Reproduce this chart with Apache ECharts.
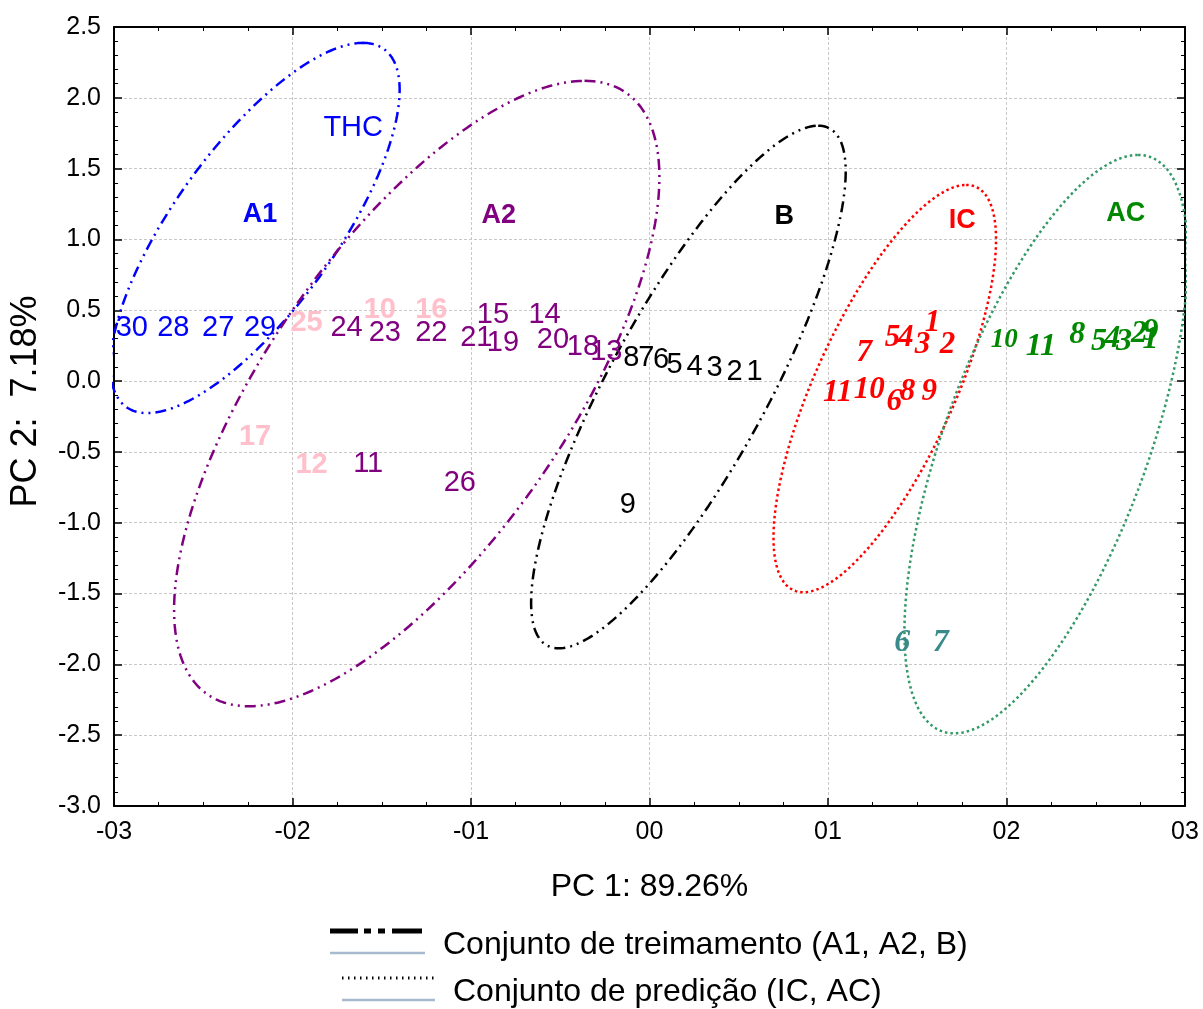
<!DOCTYPE html>
<html>
<head>
<meta charset="utf-8">
<script src="https://cdn.jsdelivr.net/npm/echarts@6/dist/echarts.min.js"></script>
<style>
  html, body { margin: 0; padding: 0; background: #ffffff; }
  #chart { width: 1203px; height: 1009px; }
</style>
</head>
<body>
<div id="chart"></div>
<script>
// PCA scores, one array per group: [PC1, PC2, sample label]
const a1Scores = [
  [-2.900, 0.375, '30'], [-2.668, 0.375, '28'], [-2.416, 0.375, '27'], [-2.182, 0.375, '29']
];
const a2Scores = [
  [-1.697, 0.375, '24'], [-1.483, 0.339, '23'], [-1.222, 0.339, '22'], [-0.970, 0.302, '21'],
  [-0.821, 0.271, '19'], [-0.877, 0.466, '15'], [-0.588, 0.466, '14'], [-0.541, 0.290, '20'],
  [-0.373, 0.242, '18'], [-0.242, 0.207, '13'], [-1.576, -0.582, '11'], [-1.063, -0.723, '26']
];
const a2Flagged = [
  [-1.921, 0.408, '25'], [-1.511, 0.502, '10'], [-1.222, 0.502, '16'],
  [-2.210, -0.394, '17'], [-1.893, -0.594, '12']
];
const bScores = [
  [-0.102, 0.160, '8'], [-0.018, 0.160, '7'], [0.065, 0.148, '6'], [0.140, 0.113, '5'],
  [0.252, 0.101, '4'], [0.364, 0.090, '3'], [0.476, 0.066, '2'], [0.588, 0.066, '1'],
  [-0.121, -0.876, '9']
];
const icScores = [
  [1.203, 0.196, '7'], [1.362, 0.301, '5'], [1.436, 0.301, '4'], [1.530, 0.254, '3'],
  [1.586, 0.408, '1'], [1.670, 0.254, '2'], [1.054, -0.087, '11'], [1.231, -0.064, '10'],
  [1.371, -0.146, '6'], [1.446, -0.075, '8'], [1.567, -0.075, '9']
];
const acScores = [
  [1.987, 0.290, '10'], [2.192, 0.243, '11'], [2.397, 0.325, '8'], [2.518, 0.278, '5'],
  [2.593, 0.301, '4'], [2.658, 0.278, '3'], [2.742, 0.337, '2'], [2.807, 0.348, '9'],
  [2.807, 0.290, '1']
];
const acOutside = [[1.416, -1.845, '6'], [1.632, -1.845, '7']];

// group captions: [PC1, PC2, text]
const groupCaptions = [
  [-2.182, 1.173, 'A1'], [-0.845, 1.168, 'A2'], [0.755, 1.159, 'B'],
  [1.752, 1.134, 'IC'], [2.668, 1.183, 'AC']
];
const analyteCaption = [[-1.660, 1.786, 'THC']];

// confidence ellipses: [centre PC1, centre PC2, offset of top point PC1, offset of top point PC2, half-width at centre height]
const ellipseA1 = [-2.210, 1.081, 0.604, 1.307, 0.540];
const ellipseA2 = [-1.304, -0.088, 0.940, 2.208, 0.982];
const ellipseB  = [0.218, -0.042, 0.727, 1.845, 0.498];
const ellipseIC = [1.318, -0.053, 0.456, 1.438, 0.425];
const ellipseAC = [2.222, -0.445, 0.515, 2.042, 0.604];

// axis tick labels
const xTickLabels = ['-03', '-02', '-01', '00', '01', '02', '03'];
const yTickLabels = ['-3.0', '-2.5', '-2.0', '-1.5', '-1.0', '-0.5', '0.0', '0.5', '1.0', '1.5', '2.0', '2.5'];

const legendLabels = ['Conjunto de treimamento (A1, A2, B)', 'Conjunto de predição (IC, AC)'];

// ---------------------------------------------------------------------------
const SANS = '"Liberation Sans", Arial, Helvetica, sans-serif';
const SERIF = '"Liberation Serif", "Times New Roman", Times, serif';

const captionColors = { A1: '#0000ff', A2: '#800080', B: '#000000', IC: '#ff0000', AC: '#008800' };

// outline of an ellipse given its centre, top point and horizontal half-width
function ellipseOutline(e) {
  const [cx, cy, ax, ay, bx] = e;
  const pts = [];
  const n = 240;
  for (let i = 0; i <= n; i++) {
    const t = (i / n) * Math.PI * 2;
    pts.push([cx + ax * Math.cos(t) + bx * Math.sin(t), cy + ay * Math.cos(t)]);
  }
  return pts;
}

const dashDotDot = [11, 5, 2, 5, 2, 5];
const dotted = [2.5, 3];

function ellipseSeries(e, color, dash) {
  return {
    type: 'line',
    data: ellipseOutline(e),
    showSymbol: false,
    symbol: 'none',
    smooth: false,
    clip: false,
    silent: true,
    z: 2,
    lineStyle: { color: color, width: 2.5, type: dash, opacity: 1 }
  };
}

// invisible points carrying their sample label as text
function labelSeries(points, color, font, overrides) {
  return {
    type: 'scatter',
    silent: true,
    symbol: 'circle',
    symbolSize: 1,
    z: 3,
    itemStyle: { color: 'rgba(0,0,0,0)', opacity: 1 },
    data: points.map(p => {
      const item = { value: [p[0], p[1]], name: p[2] };
      if (overrides && overrides[p[2]]) item.label = overrides[p[2]];
      return item;
    }),
    label: {
      show: true,
      position: 'inside',
      formatter: '{b}',
      color: color,
      opacity: 1,
      fontFamily: font.family,
      fontSize: font.size,
      fontWeight: font.weight || 'normal',
      fontStyle: font.style || 'normal'
    }
  };
}

const plainFont = { family: SANS, size: 29 };
const boldFont = { family: SANS, size: 29, weight: 'bold' };
const italicFont = { family: SERIF, size: 31, weight: 'bold', style: 'italic' };
const italicFontAC = { family: SERIF, size: 32, weight: 'bold', style: 'italic' };

const axisCommon = {
  axisLine: { show: true, onZero: false, lineStyle: { color: '#000', width: 2 } },
  axisTick: { show: true, inside: true, length: 8, lineStyle: { color: '#000', width: 1.5 } }
};

const captionSeries = {
  type: 'scatter', silent: true, symbol: 'circle', symbolSize: 1, z: 3,
  itemStyle: { color: 'rgba(0,0,0,0)', opacity: 1 },
  data: groupCaptions.map(g => ({
    value: [g[0], g[1]], name: g[2],
    label: { color: captionColors[g[2]] }
  })),
  label: {
    show: true, position: 'inside', formatter: '{b}', opacity: 1,
    fontFamily: SANS, fontSize: 27, fontWeight: 'bold', color: '#000'
  }
};

const chart = echarts.init(document.getElementById('chart'), null, { renderer: 'canvas' });

chart.setOption({
  animation: false,
  backgroundColor: '#ffffff',
  grid: { left: 113, right: 18, top: 27, bottom: 203, containLabel: false },
  xAxis: [
    Object.assign({}, axisCommon, {
      type: 'value', position: 'bottom', min: -3, max: 3, interval: 1,
      minorTick: { show: true, splitNumber: 4, length: 4, lineStyle: { color: '#000', width: 1 } },
      splitLine: { show: true, lineStyle: { color: '#c8c8c8', width: 1, type: [3, 2] } },
      axisLabel: {
        formatter: v => xTickLabels[Math.round(v) + 3],
        color: '#000', fontFamily: SANS, fontSize: 25, margin: 14
      },
      name: 'PC 1: 89.26%', nameLocation: 'middle', nameGap: 65,
      nameTextStyle: { color: '#000', fontFamily: SANS, fontSize: 32 }
    }),
    Object.assign({}, axisCommon, {
      type: 'value', position: 'top', min: -3, max: 3, interval: 1,
      minorTick: { show: true, splitNumber: 4, length: 4, lineStyle: { color: '#000', width: 1 } },
      splitLine: { show: false }, axisLabel: { show: false }
    })
  ],
  yAxis: [
    Object.assign({}, axisCommon, {
      type: 'value', position: 'left', min: -3, max: 2.5, interval: 0.5,
      minorTick: { show: true, splitNumber: 5, length: 4, lineStyle: { color: '#000', width: 1 } },
      splitLine: { show: true, lineStyle: { color: '#c8c8c8', width: 1, type: [3, 2] } },
      axisLabel: {
        formatter: v => yTickLabels[Math.round((v + 3) * 2)],
        color: '#000', fontFamily: SANS, fontSize: 25, margin: 13
      },
      name: 'PC 2:  7.18%', nameLocation: 'middle', nameGap: 70,
      nameTextStyle: { color: '#000', fontFamily: SANS, fontSize: 36, padding: [0, 0, 0, 30] }
    }),
    Object.assign({}, axisCommon, {
      type: 'value', position: 'right', min: -3, max: 2.5, interval: 0.5,
      minorTick: { show: true, splitNumber: 5, length: 4, lineStyle: { color: '#000', width: 1 } },
      splitLine: { show: false }, axisLabel: { show: false }
    })
  ],
  series: [
    ellipseSeries(ellipseA1, '#0000ff', dashDotDot),
    ellipseSeries(ellipseA2, '#800080', dashDotDot),
    ellipseSeries(ellipseB, '#000000', dashDotDot),
    ellipseSeries(ellipseIC, '#ff0000', dotted),
    ellipseSeries(ellipseAC, '#339966', dotted),
    labelSeries(a1Scores, '#0000ff', plainFont),
    labelSeries(analyteCaption, '#0000ff', plainFont),
    labelSeries(a2Scores, '#800080', plainFont),
    labelSeries(a2Flagged, '#ffc0cb', boldFont),
    labelSeries(bScores, '#000000', plainFont),
    labelSeries(icScores, '#ff0000', italicFont),
    labelSeries(acScores, '#008800', italicFontAC, { '10': { fontSize: 27 } }),
    labelSeries(acOutside, '#3a8a8a', italicFontAC),
    captionSeries
  ],
  graphic: [
    // training set key
    { type: 'line', shape: { x1: 330, y1: 931, x2: 358, y2: 931 }, style: { stroke: '#000', lineWidth: 5 } },
    { type: 'line', shape: { x1: 364, y1: 931, x2: 371, y2: 931 }, style: { stroke: '#000', lineWidth: 5 } },
    { type: 'line', shape: { x1: 378, y1: 931, x2: 385, y2: 931 }, style: { stroke: '#000', lineWidth: 5 } },
    { type: 'line', shape: { x1: 392, y1: 931, x2: 422, y2: 931 }, style: { stroke: '#000', lineWidth: 5 } },
    { type: 'line', shape: { x1: 330, y1: 953, x2: 425, y2: 953 }, style: { stroke: '#a7bad0', lineWidth: 2.5 } },
    { type: 'text', left: 443, top: 929, style: { text: legendLabels[0], fill: '#000', font: '32px ' + SANS } },
    // prediction set key
    { type: 'line', shape: { x1: 342, y1: 978, x2: 435, y2: 978 }, style: { stroke: '#000', lineWidth: 3, lineDash: [1.5, 4.5] } },
    { type: 'line', shape: { x1: 342, y1: 1000, x2: 435, y2: 1000 }, style: { stroke: '#a7bad0', lineWidth: 2.5 } },
    { type: 'text', left: 453, top: 976, style: { text: legendLabels[1], fill: '#000', font: '32px ' + SANS } }
  ]
});
</script>
</body>
</html>
